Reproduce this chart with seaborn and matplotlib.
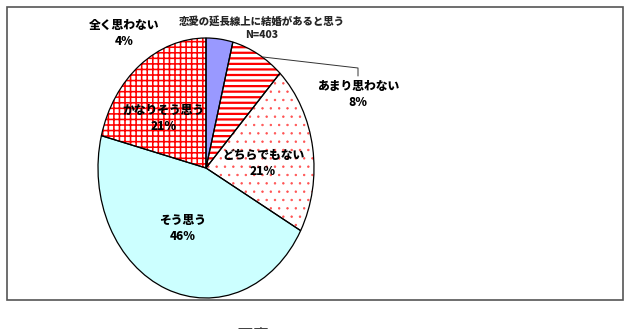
import matplotlib
matplotlib.use("Agg")
import matplotlib.pyplot as plt
import seaborn as sns

sns.set_theme(style="white")
plt.rcParams['font.family'] = ['Noto Sans CJK JP', 'DejaVu Sans']
plt.rcParams['hatch.linewidth'] = 1.5

# data
categories = ["全く思わない", "あまり思わない", "どちらでもない", "そう思う", "かなりそう思う"]
values = [4, 8, 21, 46, 21]
pct_labels = ["4%", "8%", "21%", "46%", "21%"]
title_lines = ["恋愛の延長線上に結婚があると思う", "N=403"]
caption = "図表7-2-3"

face_colors = ["#9999ff", "white", "white", "#ccffff", "white"]
hatches = [None, "---", "..", None, "+++"]
hatch_colors = [None, "#ff0000", "#ff5050", None, "#ff0000"]
hatch_lw = [None, 1.6, 0.5, None, 1.15]

W, H = 627, 329
fig = plt.figure(figsize=(W / 100, H / 100), dpi=100)
fig.patch.set_facecolor("white")

# pie axes (elliptical pie)
px0, px1, py0, py1 = 98, 314, 38, 298
ax = fig.add_axes([px0 / W, (H - py1) / H, (px1 - px0) / W, (py1 - py0) / H])
wedges, _ = ax.pie(values, startangle=90, counterclock=False, colors=face_colors,
                   wedgeprops=dict(linewidth=0, edgecolor="red"))
for w, h, hc, hl in zip(wedges, hatches, hatch_colors, hatch_lw):
    if h:
        w.set_hatch(h)
        w.set_edgecolor(hc)
        if hasattr(w, "set_hatch_linewidth"):
            w.set_hatch_linewidth(hl)
# outline overlay
ax.pie(values, startangle=90, counterclock=False,
       wedgeprops=dict(linewidth=0.9, edgecolor="black", fill=False))
ax.set_aspect("auto")
ax.set_xlim(-1.0, 1.0)
ax.set_ylim(-1.0, 1.0)
ax.axis("off")

# overlay axes in pixel coordinates (on top)
ov = fig.add_axes([0, 0, 1, 1])
ov.set_xlim(0, W)
ov.set_ylim(H, 0)
ov.axis("off")
ov.patch.set_alpha(0)
ov.add_patch(plt.Rectangle((7, 7), 616, 293, fill=False, edgecolor="#555555", lw=1.2))

# labels
label_pos = [(124, 25), (358, 86), (263, 155), (183, 220), (164, 110)]
for (x, y), cat, p in zip(label_pos, categories, pct_labels):
    ov.text(x, y, cat, ha="center", va="center", fontsize=8.5, fontweight="heavy", color="black")
    ov.text(x, y + 16, p, ha="center", va="center", fontsize=8.5, fontweight="heavy", color="black")

ov.text(262, 21, title_lines[0], ha="center", va="center", fontsize=7.5, fontweight="heavy")
ov.text(262, 35, title_lines[1], ha="center", va="center", fontsize=7.5, fontweight="heavy")

# leader line
ov.plot([263, 358, 358], [57, 68, 76], color="#333333", lw=0.7)

ov.text(237, 327.5, caption, ha="left", va="top", fontsize=12, color="#444444")

fig.savefig("out.png", dpi=100, facecolor="white")
